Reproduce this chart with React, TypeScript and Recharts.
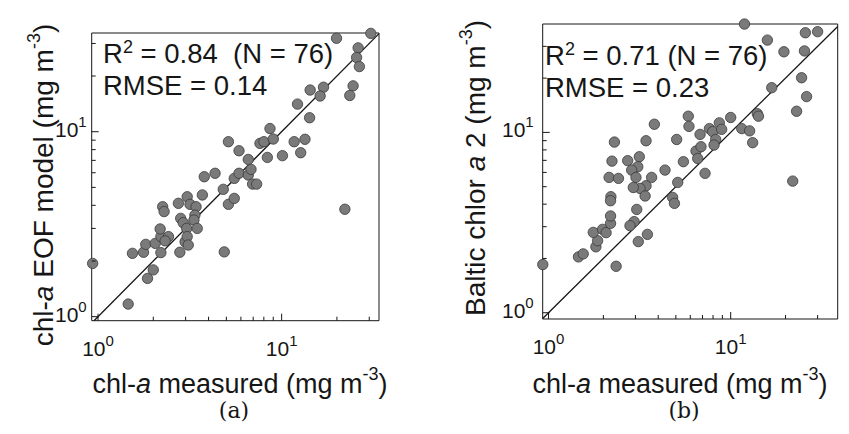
import React from 'react';
import { ScatterChart, Scatter, XAxis, YAxis } from 'recharts';

// Panel (a): chl-a measured vs chl-a EOF model (mg m^-3)
const measuredA = [
  0.935, 1.46, 1.86, 2.0, 1.54, 1.77, 1.82, 2.05, 2.2, 2.2, 2.18, 2.42, 2.32, 2.25, 2.29,
  2.74, 3.06, 3.17, 3.42, 2.82, 2.91, 3.04, 3.37, 3.33, 3.47, 2.98, 3.06, 3.1, 2.79, 3.7,
  3.79, 4.34, 4.81, 4.87, 5.13, 5.52, 5.13, 5.86, 5.52, 5.86, 6.58, 6.81, 6.58, 6.95, 7.31,
  7.62, 8.01, 8.36, 8.64, 9.01, 10.1, 11.7, 30.6, 19.9, 26.1, 25.6, 26.5, 24.5, 23.5, 16.9,
  14.3, 16.2, 12.2, 14.2, 13.4, 12.7, 22.1,
];
const modelA = [
  1.94, 1.17, 1.61, 1.79, 2.2, 2.23, 2.46, 2.49, 2.22, 2.71, 2.98, 2.71, 2.57, 3.93, 3.7,
  4.1, 4.45, 4.05, 3.93, 3.4, 3.22, 3.0, 3.54, 3.33, 3.0, 2.54, 2.71, 2.44, 2.23, 4.55,
  5.71, 5.96, 4.88, 2.24, 4.05, 4.36, 8.83, 7.89, 5.59, 5.96, 5.83, 6.26, 7.08, 5.21, 5.21,
  8.65, 8.83, 7.26, 10.4, 9.13, 7.42, 8.83, 34.0, 32.0, 28.4, 25.2, 22.5, 17.7, 15.7, 17.4,
  16.8, 15.6, 14.1, 11.9, 9.1, 7.7, 3.81,
];

// Panel (b): chl-a measured vs Baltic chlor a 2 (mg m^-3)
const measuredB = [
  0.93, 1.46, 1.55, 2.35, 1.82, 1.86, 1.76, 1.98, 2.07, 2.19, 2.19, 2.2, 2.19, 2.15, 2.42,
  2.23, 2.3, 2.72, 3.15, 3.09, 2.86, 3.02, 3.43, 3.68, 3.43, 3.18, 2.92, 3.39, 3.05, 2.95,
  2.8, 3.11, 3.49, 3.81, 4.36, 5.05, 5.12, 4.8, 4.91, 5.5, 5.85, 5.9, 6.79, 6.45, 6.87,
  6.59, 7.23, 7.64, 7.96, 8.66, 8.92, 8.27, 8.1, 10.0, 11.9, 15.9, 19.6, 25.7, 30.0, 25.4,
  24.5, 26.1, 23.0, 16.8, 14.0, 14.2, 11.5, 12.7, 13.2, 21.9,
];
const balticB = [
  1.85, 2.04, 2.12, 1.81, 2.32, 2.51, 2.79, 2.9, 2.78, 3.13, 3.44, 4.4, 4.18, 5.63, 5.56,
  6.93, 8.84, 6.97, 7.33, 6.45, 6.18, 5.63, 8.99, 5.63, 5.06, 4.89, 4.95, 4.44, 3.74, 3.2,
  3.04, 2.48, 2.72, 11.1, 6.18, 9.14, 5.28, 4.36, 4.04, 6.88, 12.3, 10.8, 9.75, 7.88, 8.33,
  7.17, 5.93, 10.5, 10.1, 11.3, 10.4, 9.14, 8.51, 12.1, 39.9, 32.5, 28.0, 35.7, 36.2, 28.3,
  20.1, 15.8, 13.1, 17.7, 12.7, 12.3, 10.5, 10.2, 8.77, 5.37,
];

// Axis limits and ticks
const xDomainA = [0.924, 33.9];
const yDomainA = [0.951, 34.17];
const xDomainB = [0.929, 38.67];
const yDomainB = [0.923, 39.92];
const logTicks = [1, 2, 3, 4, 5, 6, 7, 8, 9, 10, 20, 30];
const oneToOneA = [0.951, 33.9];
const oneToOneB = [0.929, 38.67];

const statsA = { r2: '0.84', n: '76', rmse: '0.14', gap: '\u00a0\u00a0' };
const statsB = { r2: '0.71', n: '76', rmse: '0.23', gap: '\u00a0' };

const pointsA = measuredA.map((x, i) => ({ x, y: modelA[i] }));
const pointsB = measuredB.map((x, i) => ({ x, y: balticB[i] }));
const lineA = oneToOneA.map((v) => ({ x: v, y: v }));
const lineB = oneToOneB.map((v) => ({ x: v, y: v }));

const SANS = '"Liberation Sans", Arial, sans-serif';
const SERIF = '"DejaVu Serif", "Liberation Serif", serif';
const INK = '#161616';
const DOT_FILL = '#7a7a7a';
const DOT_EDGE = '#3a3a3a';

function decadeOf(v: number): number | null {
  const l = Math.log10(v);
  const r = Math.round(l);
  return Math.abs(l - r) < 1e-6 ? r : null;
}

function LogTick(props: any) {
  const { x, y, payload, side, gap } = props;
  const d = decadeOf(payload.value);
  const len = d !== null ? 7 : 4;
  let line: React.ReactNode = null;
  if (side === 'bottom') line = <line x1={x} x2={x} y1={y} y2={y - len} stroke={INK} strokeWidth={1} />;
  if (side === 'top') line = <line x1={x} x2={x} y1={y} y2={y + len} stroke={INK} strokeWidth={1} />;
  if (side === 'left') line = <line x1={x} x2={x + len} y1={y} y2={y} stroke={INK} strokeWidth={1} />;
  if (side === 'right') line = <line x1={x} x2={x - len} y1={y} y2={y} stroke={INK} strokeWidth={1} />;
  let label: React.ReactNode = null;
  if (d !== null && side === 'bottom') {
    label = (
      <text x={x} y={y + 35} textAnchor="middle" fontFamily={SANS} fontSize={21} fill={INK}>
        10<tspan dy={-10} fontSize={15}>{d}</tspan>
      </text>
    );
  }
  if (d !== null && side === 'left') {
    label = (
      <text x={x - gap} y={y + 5} textAnchor="end" fontFamily={SANS} fontSize={21} fill={INK}>
        10<tspan dy={-10} fontSize={15}>{d}</tspan>
      </text>
    );
  }
  return (
    <g>
      {line}
      {label}
    </g>
  );
}

function Panel(props: any) {
  const { width, height, margin, xDomain, yDomain, points, line, yGap } = props;
  const axisLine = { stroke: INK, strokeWidth: 1 };
  const common = {
    type: 'number' as const,
    scale: 'log' as const,
    ticks: logTicks,
    interval: 0,
    tickLine: false,
    tickSize: 0,
    tickMargin: 0,
    axisLine,
    allowDataOverflow: false,
  };
  return (
    <ScatterChart width={width} height={height} margin={margin}>
      <XAxis {...common} xAxisId="b" dataKey="x" domain={xDomain} orientation="bottom" height={1}
        tick={(p: any) => <LogTick {...p} side="bottom" />} />
      <XAxis {...common} xAxisId="t" dataKey="x" domain={xDomain} orientation="top" height={1}
        tick={(p: any) => <LogTick {...p} side="top" />} />
      <YAxis {...common} yAxisId="l" dataKey="y" domain={yDomain} orientation="left" width={1}
        tick={(p: any) => <LogTick {...p} side="left" gap={yGap} />} />
      <YAxis {...common} yAxisId="r" dataKey="y" domain={yDomain} orientation="right" width={1}
        tick={(p: any) => <LogTick {...p} side="right" />} />
      <Scatter xAxisId="b" yAxisId="l" data={line} isAnimationActive={false}
        line={{ stroke: INK, strokeWidth: 1.3 }} shape={() => <g />} legendType="none" />
      <Scatter xAxisId="b" yAxisId="l" data={points} isAnimationActive={false}
        shape={(p: any) => <circle cx={p.cx} cy={p.cy} r={5.2} fill={DOT_FILL} stroke={DOT_EDGE} strokeWidth={0.8} />} />
    </ScatterChart>
  );
}

function Stats(props: any) {
  const { x, y1, y2, s } = props;
  return (
    <g fontFamily={SANS} fontSize={27.5} fill={INK}>
      <text x={x} y={y1}>
        R<tspan dy={-10} fontSize={18}>2</tspan>
        <tspan dy={10}>{' = ' + s.r2 + s.gap + '(N = ' + s.n + ')'}</tspan>
      </text>
      <text x={x} y={y2}>{'RMSE = ' + s.rmse}</text>
    </g>
  );
}

function Units() {
  return (
    <>
      {'(mg m'}
      <tspan dy={-13} fontSize={18}>-3</tspan>
      <tspan dy={13}>)</tspan>
    </>
  );
}

export default function App() {
  return (
    <div style={{ position: 'absolute', left: 0, top: 0, width: 849, height: 434, background: '#fff', overflow: 'hidden' }}>
      <div style={{ position: 'absolute', left: 0, top: 0 }}>
        <Panel width={430} height={434} margin={{ top: 32, right: 50, bottom: 112.3, left: 90.7 }}
          xDomain={xDomainA} yDomain={yDomainA} points={pointsA} line={lineA} yGap={5} />
      </div>
      <div style={{ position: 'absolute', left: 430, top: 0 }}>
        <Panel width={419} height={434} margin={{ top: 23, right: 10.3, bottom: 114, left: 111.7 }}
          xDomain={xDomainB} yDomain={yDomainB} points={pointsB} line={lineB} yGap={9} />
      </div>
      <svg width={849} height={434} style={{ position: 'absolute', left: 0, top: 0, pointerEvents: 'none' }}>
        <Stats x={103} y1={63} y2={95} s={statsA} />
        <Stats x={545} y1={65} y2={97} s={statsB} />
        <g fontFamily={SANS} fontSize={27} fill={INK}>
          <text x={240} y={393} textAnchor="middle">
            chl-<tspan fontStyle="italic">a</tspan> measured <Units />
          </text>
          <text x={680} y={393} textAnchor="middle">
            chl-<tspan fontStyle="italic">a</tspan> measured <Units />
          </text>
        </g>
        <g fontFamily={SANS} fontSize={28} fill={INK}>
          <text transform="translate(53,185) rotate(-90)" textAnchor="middle">
            chl-<tspan fontStyle="italic">a</tspan> EOF model <Units />
          </text>
          <text transform="translate(485,168) rotate(-90)" textAnchor="middle">
            Baltic chlor <tspan fontStyle="italic">a</tspan> 2 <Units />
          </text>
        </g>
        <g fontFamily={SERIF} fontSize={22} fill={INK}>
          <text x={234} y={418} textAnchor="middle">(a)</text>
          <text x={684} y={418} textAnchor="middle">(b)</text>
        </g>
      </svg>
    </div>
  );
}
